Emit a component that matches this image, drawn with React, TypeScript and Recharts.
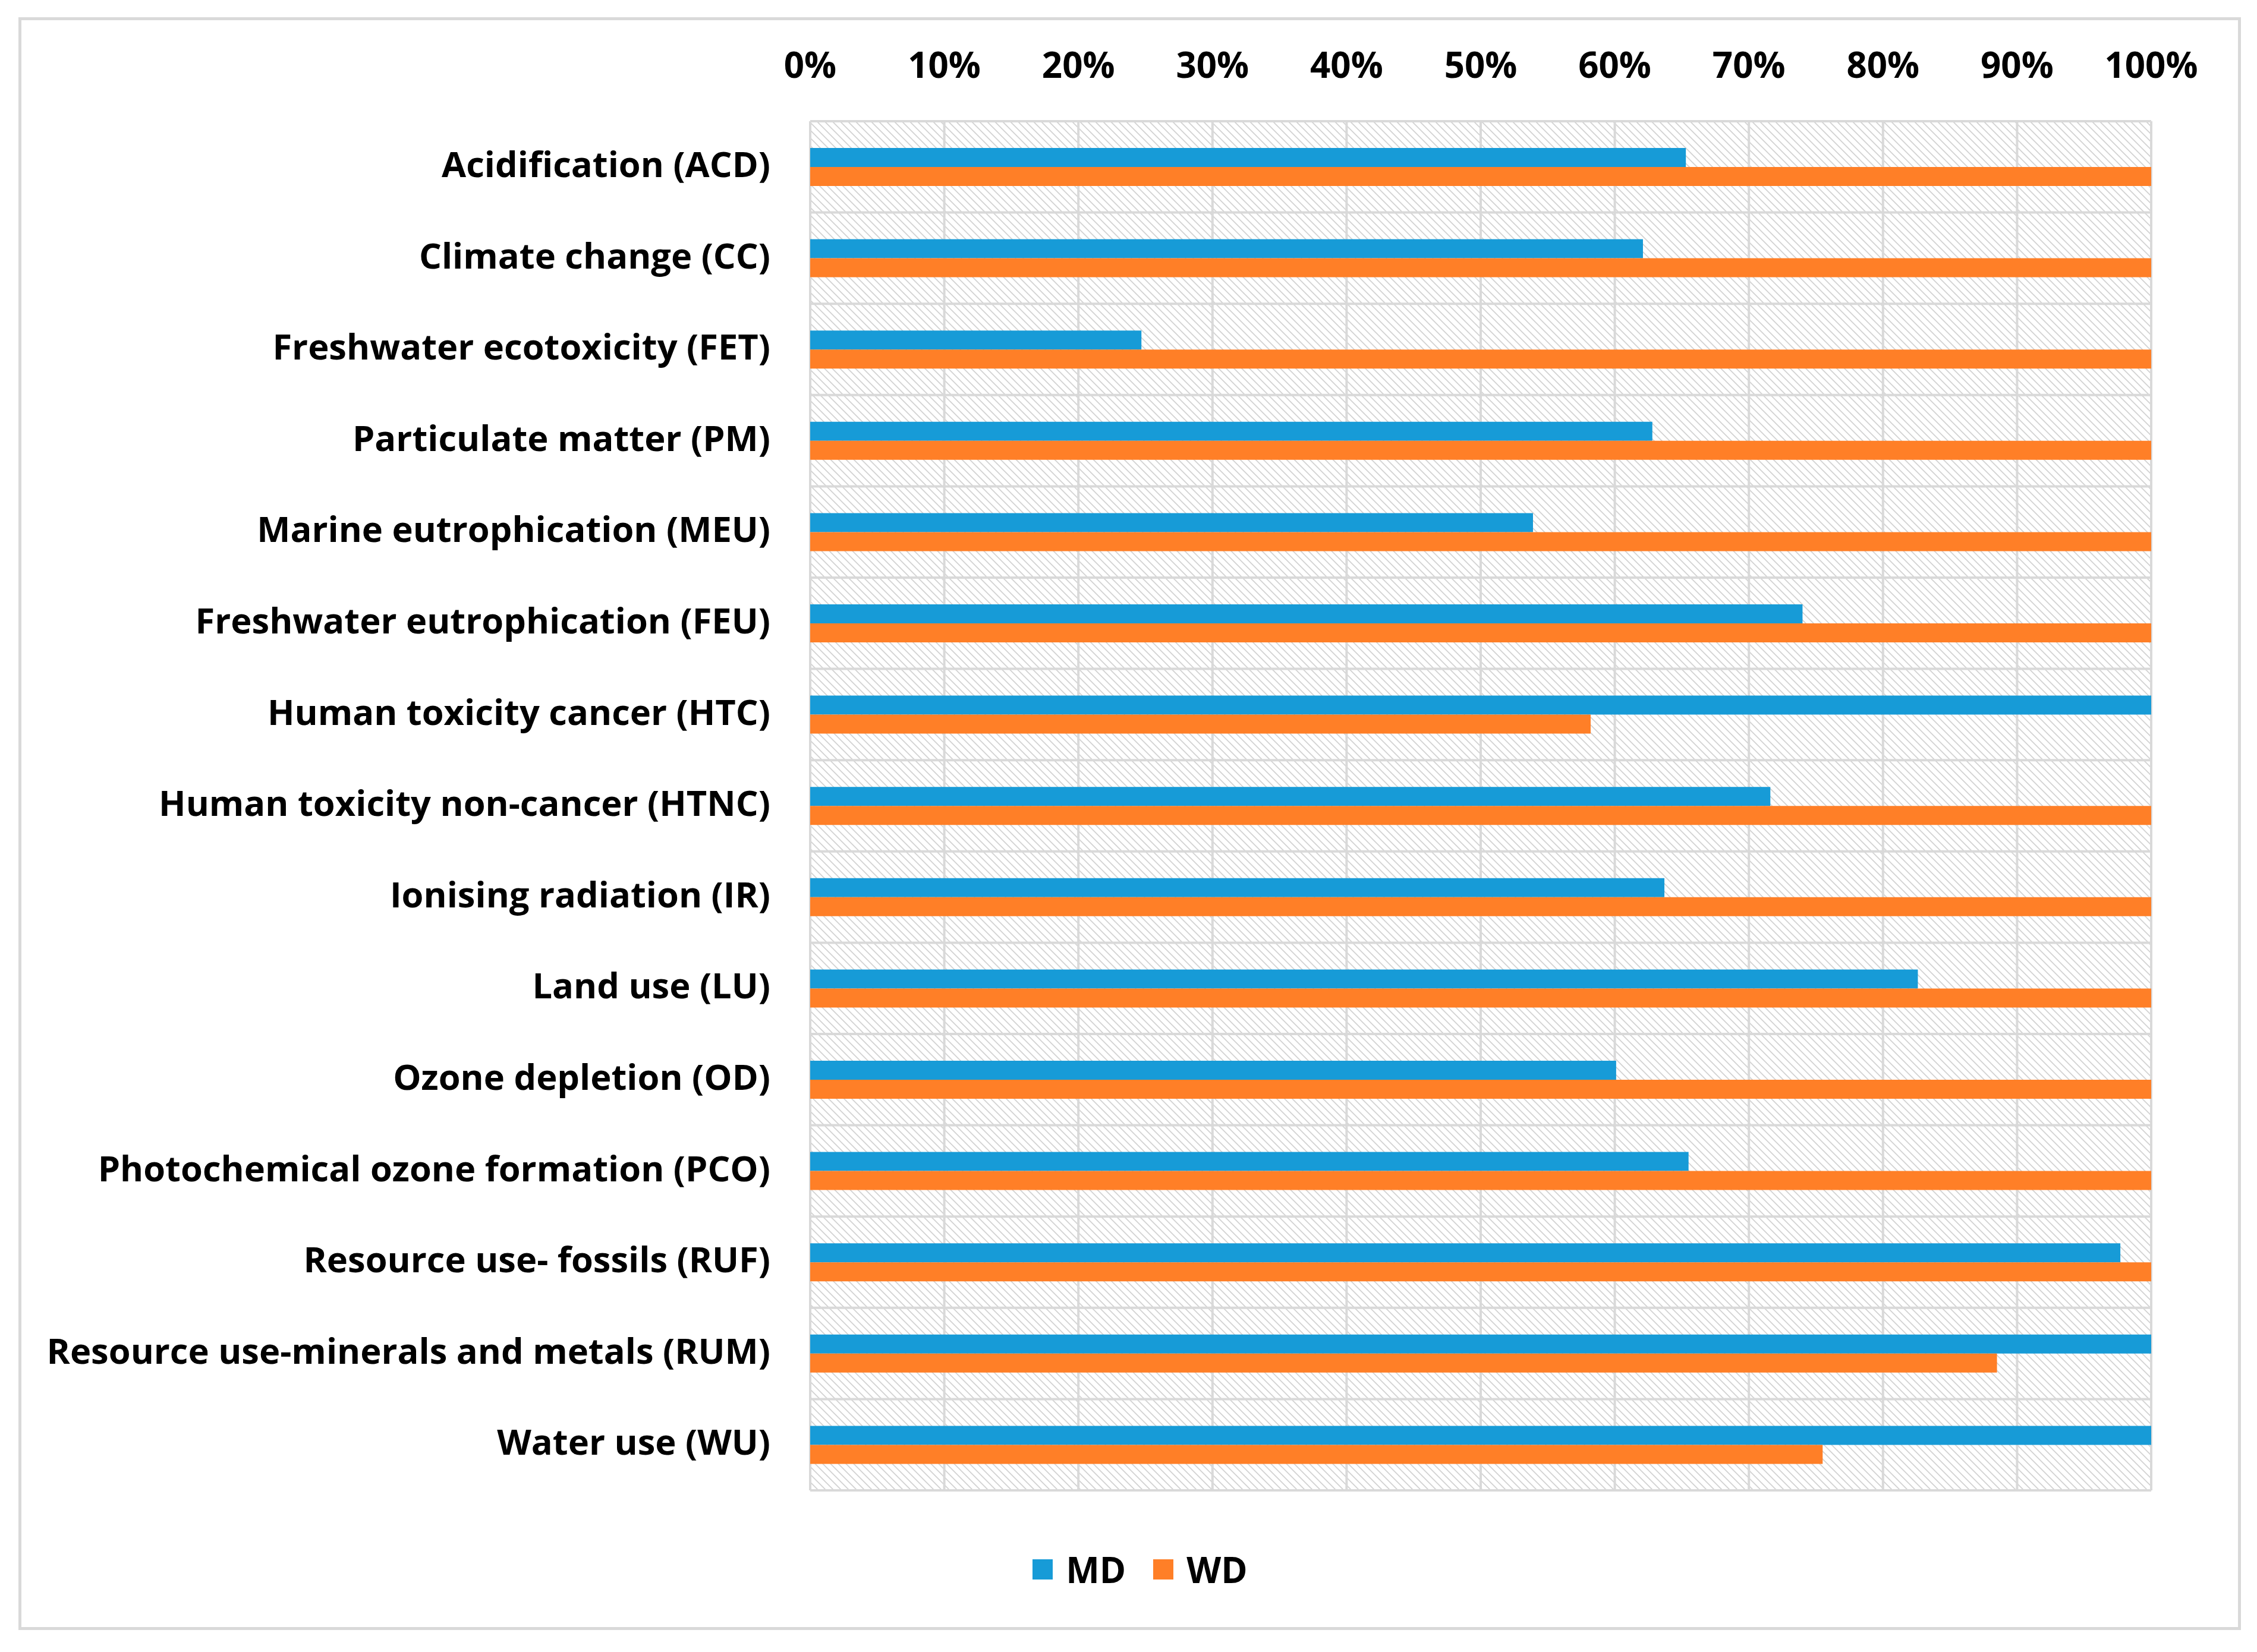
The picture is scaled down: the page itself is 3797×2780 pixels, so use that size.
import React from 'react';
import { BarChart, Bar, XAxis, YAxis, CartesianGrid, Legend, Text } from 'recharts';

const categories = [
  'Acidification (ACD)',
  'Climate change (CC)',
  'Freshwater ecotoxicity (FET)',
  'Particulate matter (PM)',
  'Marine eutrophication (MEU)',
  'Freshwater eutrophication (FEU)',
  'Human toxicity cancer (HTC)',
  'Human toxicity non-cancer (HTNC)',
  'Ionising radiation (IR)',
  'Land use (LU)',
  'Ozone depletion (OD)',
  'Photochemical ozone formation (PCO)',
  'Resource use- fossils (RUF)',
  'Resource use-minerals and metals (RUM)',
  'Water use (WU)',
];

const mdValues = [0.653, 0.621, 0.247, 0.628, 0.539, 0.74, 1.0, 0.716, 0.637, 0.826, 0.601, 0.655, 0.977, 1.0, 1.0];
const wdValues = [1.0, 1.0, 1.0, 1.0, 1.0, 1.0, 0.582, 1.0, 1.0, 1.0, 1.0, 1.0, 1.0, 0.885, 0.755];

const xTicks = [0, 0.1, 0.2, 0.3, 0.4, 0.5, 0.6, 0.7, 0.8, 0.9, 1];

const MD_COLOR = '#179BD7';
const WD_COLOR = '#FF7F27';
const GRID_COLOR = '#d9d9d9';

const data = categories.map((name, i) => ({ name, MD: mdValues[i], WD: wdValues[i] }));

const labelStyle = { fontSize: 60, fontWeight: 700, fill: '#000' };

// horizontal grid lines sit between categories, like in Excel
const bandLines = ({ offset }: any) => {
  const step = offset.height / categories.length;
  const ys: number[] = [];
  for (let i = 0; i <= categories.length; i++) ys.push(offset.top + i * step);
  return ys;
};

// category labels sit a touch higher than recharts' middle anchor
const CategoryTick = (props: any) => {
  const { x, y, payload } = props;
  return (
    <Text x={x} y={y - 4} textAnchor="end" verticalAnchor="middle" fontSize={59.6} fontWeight={700} fill="#000">
      {payload.value}
    </Text>
  );
};

const renderLegend = (props: any) => {
  const { payload } = props;
  return (
    <div style={{ display: 'flex', justifyContent: 'center', alignItems: 'center', gap: 46 }}>
      {payload.map((entry: any) => (
        <div key={entry.value} style={{ display: 'flex', alignItems: 'center' }}>
          <svg width={34} height={34}>
            <rect width={34} height={34} fill={entry.color} />
          </svg>
          <span style={{ marginLeft: 22, fontSize: 60, fontWeight: 700, color: '#000', lineHeight: '82px' }}>
            {entry.value}
          </span>
        </div>
      ))}
    </div>
  );
};

export default function App() {
  return (
    <div
      style={{
        position: 'absolute',
        left: 0,
        top: 0,
        width: 3797,
        height: 2780,
        background: '#fff',
        fontFamily: "'Open Sans', sans-serif",
      }}
    >
      <div
        style={{
          position: 'absolute',
          left: 31,
          top: 29,
          width: 3739,
          height: 2714,
          boxSizing: 'border-box',
          border: `5px solid ${GRID_COLOR}`,
        }}
      />
      <div style={{ position: 'absolute', left: 0, top: 0 }}>
        <BarChart
          width={3797}
          height={2780}
          data={data}
          layout="vertical"
          barGap={0}
          margin={{ top: 0, right: 178, bottom: 272, left: 0 }}
        >
          <defs>
            <pattern id="hatch" width={13} height={13} patternUnits="userSpaceOnUse">
              <path d="M0,0 L13,13 M-3,10 L3,16 M10,-3 L16,3" stroke="#d2d2d2" strokeWidth={1.8} />
            </pattern>
          </defs>
          <CartesianGrid
            fill="url(#hatch)"
            fillOpacity={1}
            stroke={GRID_COLOR}
            strokeWidth={4}
            horizontalCoordinatesGenerator={bandLines}
          />
          <XAxis
            type="number"
            orientation="top"
            domain={[0, 1]}
            ticks={xTicks}
            interval={0}
            height={204}
            axisLine={false}
            tickLine={false}
            tickSize={0}
            tickMargin={73}
            tickFormatter={(v: number) => `${Math.round(v * 100)}%`}
            tick={labelStyle}
          />
          <YAxis
            type="category"
            dataKey="name"
            width={1363}
            interval={0}
            axisLine={false}
            tickLine={false}
            tickSize={0}
            tickMargin={67}
            tick={<CategoryTick />}
          />
          <Legend
            layout="horizontal"
            verticalAlign="middle"
            align="center"
            content={renderLegend}
            wrapperStyle={{ left: 40, width: 3756, top: 2600, height: 82 }}
          />
          <Bar dataKey="MD" name="MD" fill={MD_COLOR} barSize={32} isAnimationActive={false} />
          <Bar dataKey="WD" name="WD" fill={WD_COLOR} barSize={32} isAnimationActive={false} />
        </BarChart>
      </div>
    </div>
  );
}
